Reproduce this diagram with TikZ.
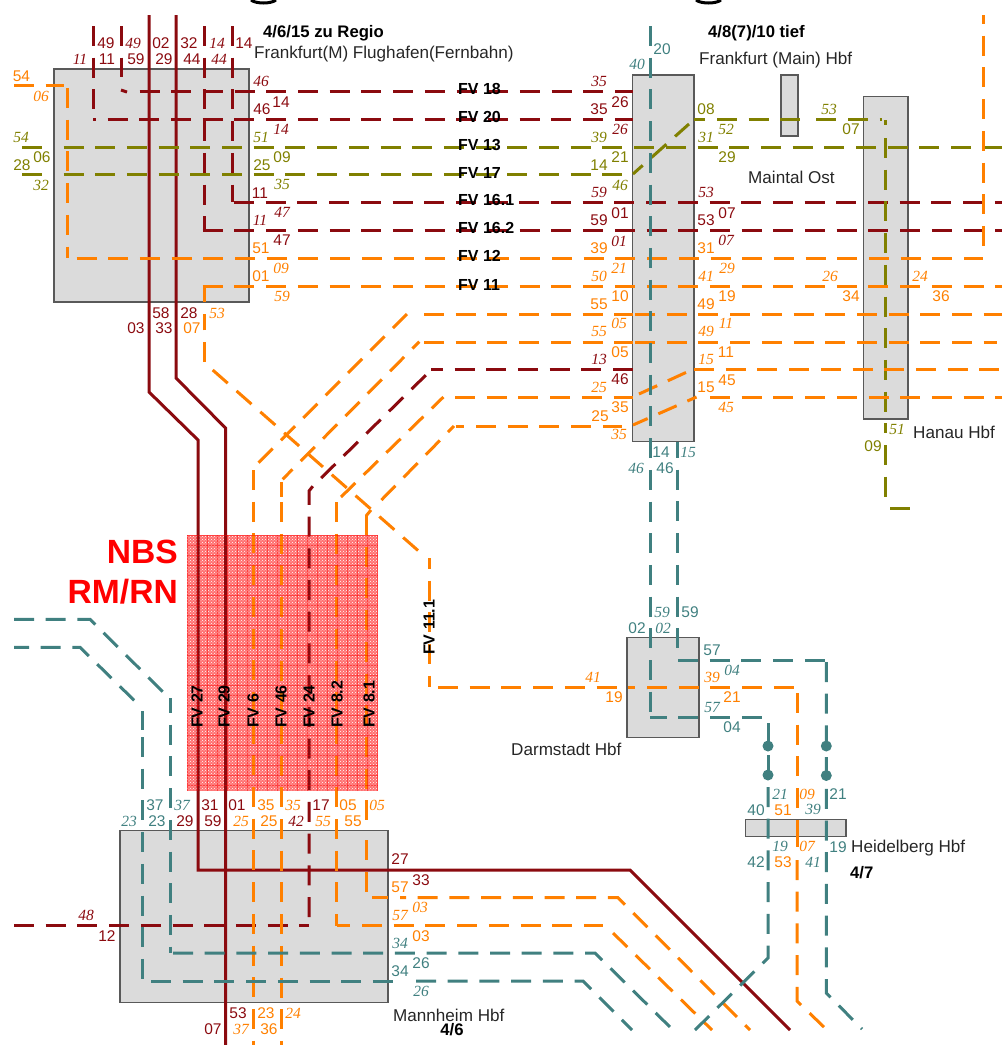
\documentclass[tikz,border=0pt]{standalone}
\usepackage{xcolor}
\usepackage{fontspec}
\setmainfont{Liberation Sans}
\newfontfamily\numserif{Liberation Serif}
\usetikzlibrary{patterns}
\definecolor{trackred}{HTML}{8B0A0F}
\definecolor{trackolive}{HTML}{808000}
\definecolor{trackorange}{HTML}{FF8000}
\definecolor{trackteal}{HTML}{408080}
\definecolor{nbspink}{HTML}{FF7070}
\tikzstyle{station} = [rectangle, draw=black!65, fill=black!14, line width=1.4pt, inner sep=0pt]
\tikzstyle{trackdash} = [line width=3pt, dash pattern=on 20pt off 11.7pt]
\tikzstyle{redtrack} = [trackdash, draw=trackred]
\tikzstyle{redsolid} = [line width=3pt, draw=trackred]
\tikzstyle{olivetrack} = [trackdash, draw=trackolive]
\tikzstyle{orangetrack} = [trackdash, draw=trackorange]
\tikzstyle{tealtrack} = [trackdash, draw=trackteal]
\tikzstyle{halt} = [circle, fill=trackteal, minimum size=11pt, inner sep=0pt]
\tikzstyle{num} = [inner sep=0pt, font=\fontsize{15.5}{15.5}\selectfont]
\tikzstyle{numit} = [inner sep=0pt, font=\numserif\itshape\fontsize{15.5}{15.5}\selectfont]
\tikzstyle{stationname} = [anchor=west, inner sep=0pt, text=black!85, font=\fontsize{17.1}{17.1}\selectfont]
\tikzstyle{platform} = [inner sep=0pt, font=\bfseries\fontsize{16.7}{16.7}\selectfont]
\tikzstyle{fvlabel} = [anchor=west, inner sep=0pt, font=\bfseries\fontsize{16}{16}\selectfont]

\begin{document}
\begin{tikzpicture}[x=1pt, y=-1pt]
        \useasboundingbox (0,0) rectangle (1002,1045);
        % cut off title
        \draw [line width=3pt] (251,0) .. controls (256,4) and (271,4) .. (276,0);
        \draw [line width=3pt] (696,0) .. controls (701,4) and (716,4) .. (721,0);

        \fill [nbspink] (187,535) rectangle (378,791);
        \fill [pattern=crosshatch dots, pattern color=white] (187,535) rectangle (378,791);

        \node [station, minimum width=195pt, minimum height=233pt] (flughafen) at (151.5,185.5) {};
        \node [station, minimum width=61.5pt, minimum height=366.5pt] (hbf) at (663.3,258.2) {};
        \node [station, minimum width=17pt, minimum height=61pt] (maintal) at (789.5,105.5) {};
        \node [station, minimum width=44.7pt, minimum height=322.3pt] (hanau) at (885.7,257.9) {};
        \node [station, minimum width=72pt, minimum height=100.5pt] (darmstadt) at (663,687.5) {};
        \node [station, minimum width=100.3pt, minimum height=16.6pt] (heidelberg) at (795.8,828) {};
        \node [station, minimum width=268pt, minimum height=172pt] (mannheim) at (254,916.7) {};

        % solid lines
        \draw [redsolid] (149,15) -- (149,392) -- (198,440) -- (198,870) -- (630,870) -- (790,1030);
        \draw [redsolid] (176,15) -- (176,378) -- (225.5,428) -- (225.5,1045);

        % red
        \draw [redtrack] (93,26) -- (93,120);
        \draw [redtrack] (93,119) -- (96,119);
        \draw [redtrack] (121,26) -- (121,77);
        \draw [redtrack] (121,90) -- (127,92);
        \draw [redtrack] (204,26) -- (204,230);
        \draw [redtrack] (232,26) -- (232,202);
        \draw [redtrack] (139.5,91) -- (632.7,91);
        \draw [redtrack] (107.6,119) -- (632.7,119);
        \draw [redtrack] (234,202.5) -- (1002,202.5);
        \draw [redtrack] (202.7,230) -- (1002,230);
        \draw [redtrack, dash phase=8.2pt] (431,369.3) -- (632.7,369.3);
        \draw [redtrack] (309,917) -- (309,491) -- (313,486) -- (427,374);
        \draw [redtrack] (14,925.5) -- (309,925.5);

        % olive
        \draw [olivetrack] (22,147) -- (42,147);
        \draw [olivetrack] (63.5,147) -- (1002,147);
        \draw [olivetrack] (22,174) -- (42,174);
        \draw [olivetrack] (63.5,174) -- (628,174);
        \draw [olivetrack, dash phase=7pt] (633,174) -- (689,124);
        \draw [olivetrack] (694,119) -- (705,119);
        \draw [olivetrack] (717,119) -- (800,119);
        \draw [olivetrack] (816,119) -- (837,119);
        \draw [olivetrack] (848,119) -- (881.5,119);
        \draw [olivetrack] (885.7,120) -- (885.7,125);
        \draw [olivetrack] (885.7,138) -- (885.7,433);
        \draw [olivetrack] (885.7,445) -- (885.7,497);
        \draw [olivetrack] (890,508) -- (910,508);

        % orange
        \draw [orangetrack] (14,85.5) -- (64,85.5);
        \draw [orangetrack] (67,88) -- (67,258);
        \draw [orangetrack] (76.5,258) -- (983,258);
        \draw [orangetrack, dash phase=11pt] (983,15) -- (983,247);
        \draw [orangetrack] (202.7,286) -- (1002,286);
        \draw [orangetrack] (204,286) -- (204,302);
        \draw [orangetrack] (204,362) -- (204,314);
        \draw [orangetrack] (212.7,370) -- (418,550.5);
        \draw [orangetrack, dash phase=9pt] (429,558) -- (429,687);
        \draw [orangetrack] (438,687) -- (635,687);
        \draw [orangetrack] (647,687) -- (797,687);
        \draw [orangetrack] (797,693) -- (797,840);
        \draw [orangetrack] (797,840) -- (797,847);
        \draw [orangetrack] (797,860) -- (797,1001) -- (827,1030);

        \draw [orangetrack] (424,314) -- (633,314);
        \draw [orangetrack] (635,314) -- (1002,314);
        \draw [orangetrack] (258.5,462.7) -- (407,314);
        \draw [orangetrack] (253,470) -- (253,1045);

        \draw [orangetrack] (424,342) -- (633,342);
        \draw [orangetrack] (635,342) -- (997,342);
        \draw [orangetrack, dash phase=6pt] (282.6,479.3) -- (419.3,341.7);
        \draw [orangetrack] (281,502) -- (281,1045);
        \draw [orangetrack] (281,482) -- (281,497);

        \draw [orangetrack] (455,397) -- (633,397);
        \draw [orangetrack] (710,397) -- (1002,397);
        \draw [orangetrack] (341,497) -- (443.4,397);
        \draw [orangetrack] (336,502) -- (336,925.5);
        \draw [orangetrack] (337,925.5) -- (350,925.5);
        \draw [orangetrack] (362,925.5) -- (603,925.5);
        \draw [orangetrack] (613,933) -- (712,1030);

        \draw [orangetrack] (694,369.3) -- (1002,369.3);
        \draw [orangetrack] (639,394) -- (687,372);
        \draw [orangetrack, dash phase=4pt] (633,425) -- (696.5,397);

        \draw [orangetrack, dash phase=11.2pt] (455.5,426) -- (622,426);
        \draw [orangetrack] (381.4,500) -- (454,426);
        \draw [orangetrack] (366,516) -- (371,510);
        \draw [orangetrack] (366,515) -- (366,820);
        \draw [orangetrack] (366,840) -- (366,892);
        \draw [orangetrack] (372,897.7) -- (388,897.7);
        \draw [orangetrack, dash phase=14pt] (400,897.7) -- (618,897.7) -- (750,1030);

        % teal
        \draw [tealtrack] (650,26) -- (650,712);
        \draw [tealtrack, dash phase=3.3pt] (650,717) -- (767,717);
        \draw [tealtrack] (768,723) -- (768,742);
        \draw [tealtrack] (768,755) -- (768,775);
        \draw [tealtrack] (768,787) -- (768,958) -- (695,1030);
        \draw [tealtrack, dash phase=3.7pt] (677,441.7) -- (677,648);
        \draw [tealtrack] (678,660) -- (826.3,660);
        \draw [tealtrack] (826.3,662) -- (826.3,993) -- (862,1029);
        \draw [tealtrack] (14,619.3) -- (90,619.3) -- (165,694);
        \draw [tealtrack, dash phase=5pt] (170,698) -- (170,953);
        \draw [tealtrack] (173,953) -- (595,953) -- (673,1030);
        \draw [tealtrack, dash phase=5pt] (14,647.3) -- (80,647.3) -- (142,708);
        \draw [tealtrack] (142.3,711) -- (142.3,730);
        \draw [tealtrack] (142.3,737) -- (142.3,981);
        \draw [tealtrack] (151,981) -- (403,981);
        \draw [tealtrack] (416,981) -- (583,981) -- (632,1030);

        \node [halt] (halta) at (768,746) {};
        \node [halt] (haltb) at (768,775) {};
        \node [halt] (haltc) at (826.3,746) {};
        \node [halt] (haltd) at (826.3,775.5) {};

        % NBS grid
        \foreach \gx in {187,197,...,378}
            \draw [red, line width=0.9pt, opacity=0.45] (\gx,535) -- (\gx,791);
        \foreach \gy in {535,545,...,791}
            \draw [red, line width=0.9pt, opacity=0.45] (187,\gy) -- (378,\gy);

        \node [anchor=east, inner sep=0pt, text=red, font=\bfseries\fontsize{33.6}{33.6}\selectfont] (nbs) at (178,552) {NBS};
        \node [anchor=east, inner sep=0pt, text=red, font=\bfseries\fontsize{33.6}{33.6}\selectfont] (rmrn) at (178,592) {RM/RN};

        % line names
        \foreach \py/\txt [count=\i] in {89/FV 18, 117/FV 20, 145/FV 13, 173/FV 17, 200/FV 16.1, 228/FV 16.2, 256/FV 12, 285/FV 11}
            \node [fvlabel] (fv\i) at (458,\py) {\txt};
        \foreach \px/\txt [count=\i] in {197/FV 27, 224/FV 29, 253/FV 6, 281/FV 46, 309/FV 24, 337/FV 8.2, 369/FV 8.1}
            \node [fvlabel, rotate=90] (fvs\i) at (\px,728) {\txt};
        \node [fvlabel, rotate=90] (fvdarm) at (429,655) {FV 11.1};

        % station names
        \node [stationname] (nameflug) at (254,54) {Frankfurt(M) Flughafen(Fernbahn)};
        \node [platform, anchor=west] (platflug) at (263,33) {4/6/15 zu Regio};
        \node [stationname] (namehbf) at (699,60) {Frankfurt (Main) Hbf};
        \node [platform, anchor=west] (plathbf) at (708,33) {4/8(7)/10 tief};
        \node [stationname] (namemaintal) at (748,177) {Maintal Ost};
        \node [stationname] (namehanau) at (913,432) {Hanau Hbf};
        \node [stationname] (namedarm) at (511,749) {Darmstadt Hbf};
        \node [stationname] (nameheid) at (851,848) {Heidelberg Hbf};
        \node [platform, anchor=west] (platheid) at (850,873) {4/7};
        \node [stationname] (namemann) at (393,1015) {Mannheim Hbf};
        \node [platform] (platmann) at (452,1030) {4/6};

        % track numbers
        \foreach \px/\py/\txt [count=\i] in {106/43/49, 107/59/11, 136/59/59, 161/43/02, 164/59/29, 189/43/32, 192/59/44, 244/43/14, 262/109/46, 281/102/14, 260/193/11, 282/240/47, 161/313/58, 136/328/03, 164/328/33, 189/313/28, 620/102/26, 599/109/35, 620/213/01, 599/220/59, 706/220/53, 727/213/07, 620/379/46, 210/805/31, 237/805/01, 185/821/29, 213/821/59, 321/805/17, 400/859/27, 421/880/33, 107/936/12, 238/1013/53, 213/1029/07}
            \node [num, text=trackred] (rn\i) at (\px,\py) {\txt};
        \foreach \px/\py/\txt [count=\i] in {80/59/11, 133/43/49, 217/43/14, 219/59/44, 261/81/46, 281/129/14, 260/220/11, 282/212/47, 599/81/35, 620/129/26, 599/192/59, 706/192/53, 619/241/01, 726/240/07, 599/359/13, 296/821/42, 86/915/48}
            \node [numit, text=trackred] (ri\i) at (\px,\py) {\txt};
        \foreach \px/\py/\txt [count=\i] in {21.5/76/54, 261/248/51, 261/276/01, 192/328/07, 599/248/39, 620/296/10, 599/304/55, 706/248/31, 727/296/19, 706/304/49, 851/296/34, 941/296/36, 620/352/05, 620/407/35, 600/416/25, 726/352/11, 727/380/45, 706/387/15, 614/697/19, 732/697/21, 783/810/51, 783/862/53, 266/805/35, 348/805/05, 269/821/25, 353/821/55, 400/887/57, 421/936/03, 266/1013/23, 269/1029/36}
            \node [num, text=trackorange] (on\i) at (\px,\py) {\txt};
        \foreach \px/\py/\txt [count=\i] in {41/96/06, 281/268/09, 282/296/59, 217/313/53, 619/268/21, 599/276/50, 727/268/29, 706/276/41, 830/276/26, 920/276/24, 619/323/05, 599/331/55, 726/323/11, 706/331/49, 599/387/25, 619/434/35, 706/359/15, 726/407/45, 593/677/41, 712/677/39, 807/794/09, 807/846/07, 293/805/35, 377/805/05, 241/821/25, 323/821/55, 400/915/57, 420/907/03, 241/1029/37, 293/1013/24}
            \node [numit, text=trackorange] (oi\i) at (\px,\py) {\txt};
        \foreach \px/\py/\txt [count=\i] in {22/165/28, 42/157/06, 262/165/25, 282/157/09, 620/157/21, 599/165/14, 706/109/08, 727/157/29, 851/129/07, 873/446/09}
            \node [num, text=trackolive] (ln\i) at (\px,\py) {\txt};
        \foreach \px/\py/\txt [count=\i] in {21/137/54, 41/185/32, 261/137/51, 282/184/35, 599/137/39, 620/185/46, 706/137/31, 726/129/52, 829/109/53, 897/429/51}
            \node [numit, text=trackolive] (li\i) at (\px,\py) {\txt};
        \foreach \px/\py/\txt [count=\i] in {662/49/20, 661/452/14, 665/468/46, 690/612/59, 637/628/02, 712/650/57, 732/727/04, 838/794/21, 756/810/40, 838/847/19, 756/862/42, 155/805/37, 157/821/23, 400/971/34, 421/963/26}
            \node [num, text=trackteal] (tn\i) at (\px,\py) {\txt};
        \foreach \px/\py/\txt [count=\i] in {637/64/40, 688/452/15, 636/468/46, 662/612/59, 663/628/02, 732/670/04, 712/707/57, 780/794/21, 813/809/39, 780/846/19, 813/862/41, 182/805/37, 129/821/23, 400/943/34, 421/991/26}
            \node [numit, text=trackteal] (ti\i) at (\px,\py) {\txt};
    \end{tikzpicture}
\end{document}
